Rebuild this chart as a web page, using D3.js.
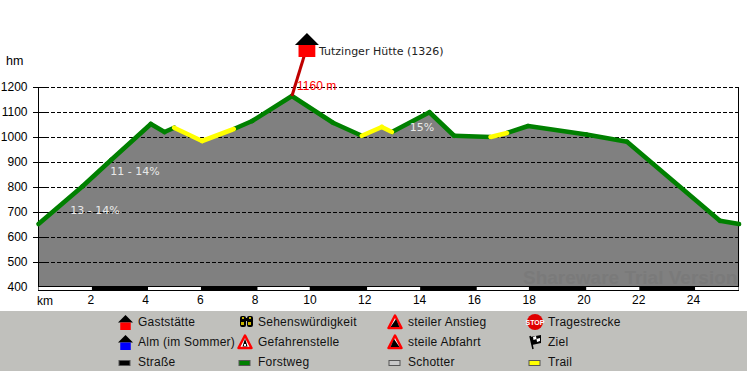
<!DOCTYPE html>
<html>
<head>
<meta charset="utf-8">
<style>
  html, body { margin: 0; padding: 0; background: #fff; overflow: hidden; }
  text { font-family: "Liberation Sans", Arial, sans-serif; }
</style>
<script src="https://cdn.jsdelivr.net/npm/d3@7"></script>
</head>
<body>
<div id="chart"></div>
<script>
// Profile: km along the route, height in metres
const profileKm = [0, 1.6, 2.65, 4.1, 4.6, 4.95, 5.97, 7.13, 7.8, 9.25, 10.75, 11.8, 12.53, 12.9, 14.27, 15.17, 16.5, 17.1, 17.87, 20, 21.48, 24.87, 25.57];
const profileElev = [650, 800, 906, 1050, 1018, 1035, 982, 1030, 1062, 1162, 1055, 1003, 1038, 1018, 1097, 1003, 998, 1014, 1042, 1008, 979, 663, 650];
// surface of each stretch between two profile points
const surfaces = ['F', 'F', 'F', 'F', 'F', 'T', 'T', 'F', 'F', 'F', 'F', 'T', 'T', 'F', 'F', 'F', 'T', 'F', 'F', 'F', 'F', 'F'];

const elevTicks = [400, 500, 600, 700, 800, 900, 1000, 1100, 1200];
const kmTicks = [2, 4, 6, 8, 10, 12, 14, 16, 18, 20, 22, 24];
const scaleBreaks = [0, 1.95, 4, 5.93, 8, 9.9, 12, 13.93, 16, 17.9, 20, 21.93, 23.97, 25.55];

const slopeLabels = ['13 - 14%', '11 - 14%', '15%'];
const slopeKm = [1.16, 2.62, 13.55];
const slopeElev = [690, 845, 1021];

const hutName = 'Tutzinger Hütte (1326)';
const hutElev = 1326;
const peakKm = 9.25;
const peakElev = 1162;
const peakLabel = '1160 m';

const legendRows = [
    ['Gaststätte', 'Sehenswürdigkeit', 'steiler Anstieg', 'Tragestrecke'],
    ['Alm (im Sommer)', 'Gefahrenstelle', 'steile Abfahrt', 'Ziel'],
    ['Straße', 'Forstweg', 'Schotter', 'Trail']
];

const width = 747;
const height = 371;

const svg = d3.select('#chart').append('svg')
    .attr('width', width)
    .attr('height', height)
    .style('display', 'block');

const x = d3.scaleLinear().domain([0, 25.55]).range([38.5, 738.5]);
const y = d3.scaleLinear().domain([400, 1200]).range([286.5, 86.5]);

// Grey area under the profile
const area = d3.area()
    .x((d, i) => x(profileKm[i]))
    .y0(y(400))
    .y1(d => y(d));
svg.append('path')
    .datum(profileElev)
    .attr('d', area)
    .style('fill', '#808080');

// Faint watermark inside the area
svg.append('text')
    .attr('x', 523).attr('y', 284)
    .style('font-size', '19px').style('font-weight', 'bold')
    .style('fill', '#7a7a7a')
    .text('Shareware Trial Version');

// Y axis with dashed grid lines
const yAxis = svg.append('g')
    .attr('transform', 'translate(38.5,0)')
    .call(d3.axisLeft(y).tickValues(elevTicks).tickSize(-700).tickPadding(-6).tickFormat(d3.format('d')));
yAxis.select('.domain').remove();
yAxis.selectAll('line')
    .attr('x1', 6)
    .style('stroke', '#000')
    .style('stroke-dasharray', '4,2')
    .style('shape-rendering', 'crispEdges');
yAxis.selectAll('line').filter(d => d === 400).remove();
// solid stub where each grid line crosses the axis
yAxis.selectAll('.tick').filter(d => d !== 400).append('line')
    .attr('x1', -5.5).attr('x2', 6)
    .style('stroke', '#000')
    .style('shape-rendering', 'crispEdges');
yAxis.selectAll('text')
    .attr('x', -11)
    .style('font-size', '12px')
    .style('font-family', '"Liberation Sans", Arial, sans-serif')
    .style('fill', '#000');

svg.append('text').attr('x', 6).attr('y', 65).style('font-size', '12.5px').text('hm');

// Frame lines left and right
svg.selectAll('line.frame')
    .data([38.5, 738.5])
    .enter().append('line')
    .attr('class', 'frame')
    .attr('x1', d => d).attr('x2', d => d)
    .attr('y1', y(1200)).attr('y2', 291)
    .style('stroke', '#000')
    .style('shape-rendering', 'crispEdges');

// Black and white km strip
svg.selectAll('rect.strip')
    .data(d3.pairs(scaleBreaks))
    .enter().append('rect')
    .attr('class', 'strip')
    .attr('x', d => x(d[0]))
    .attr('y', 287)
    .attr('width', d => x(d[1]) - x(d[0]))
    .attr('height', 3)
    .style('fill', (d, i) => i % 2 ? '#000' : '#fff');
svg.append('line')
    .attr('x1', 38).attr('x2', 739).attr('y1', 286.5).attr('y2', 286.5)
    .style('stroke', '#000');
svg.append('line')
    .attr('x1', 38).attr('x2', 739).attr('y1', 290.5).attr('y2', 290.5)
    .style('stroke', '#000');

// X axis labels
const xAxis = svg.append('g')
    .attr('transform', 'translate(-3,291)')
    .call(d3.axisBottom(x).tickValues(kmTicks).tickSize(0).tickPadding(4).tickFormat(d3.format('d')));
xAxis.select('.domain').remove();
xAxis.selectAll('text')
    .style('font-size', '12px')
    .style('font-family', '"Liberation Sans", Arial, sans-serif')
    .style('fill', '#000');
svg.append('text').attr('x', 37).attr('y', 305).style('font-size', '12px').text('km');

// Profile line, one piece per stretch so that the surface colours show
const line = d3.line().x(d => x(d[0])).y(d => y(d[1]));
const stretches = d3.pairs(d3.zip(profileKm, profileElev));
const drawOrder = d3.range(stretches.length).sort((a, b) => d3.ascending(surfaces[a], surfaces[b]));
svg.selectAll('path.stretch')
    .data(drawOrder)
    .enter().append('path')
    .attr('class', 'stretch')
    .attr('d', i => line(stretches[i]))
    .style('fill', 'none')
    .style('stroke', i => surfaces[i] === 'T' ? '#ffff00' : '#008000')
    .style('stroke-width', 4.6)
    .style('stroke-linecap', 'round');

// Slope labels
svg.selectAll('text.slope')
    .data(slopeLabels)
    .enter().append('text')
    .attr('class', 'slope')
    .attr('x', (d, i) => x(slopeKm[i]))
    .attr('y', (d, i) => y(slopeElev[i]))
    .style('font-family', '"DejaVu Sans", sans-serif')
    .style('font-size', '11px')
    .style('fill', '#e8e8e8')
    .text(d => d);

// Hut marker on its pole
const hutX = x(peakKm) + 15;
const hutY = y(hutElev) - 8;
svg.append('line')
    .attr('x1', x(peakKm)).attr('y1', y(peakElev))
    .attr('x2', hutX).attr('y2', hutY)
    .style('stroke', '#bf0000')
    .style('stroke-width', 3);

function house(g, cx, top, w, fill) {
    g.append('path')
        .attr('d', `M${cx},${top}L${cx + w / 2},${top + w / 2}H${cx - w / 2}Z`)
        .style('fill', '#000');
    g.append('rect')
        .attr('x', cx - w * 0.35).attr('y', top + w / 2)
        .attr('width', w * 0.7).attr('height', w / 2)
        .style('fill', fill);
}
house(svg.append('g'), hutX, 33, 24, '#ff0000');

svg.append('text')
    .attr('x', 319).attr('y', 55)
    .style('font-family', '"DejaVu Sans", sans-serif')
    .style('font-size', '11px')
    .style('fill', '#222')
    .text(hutName);

svg.append('text')
    .attr('x', 297).attr('y', y(1200) + 3.5)
    .style('font-size', '12px')
    .style('fill', '#ff0000')
    .text(peakLabel);

// Legend
svg.append('rect')
    .attr('x', 0).attr('y', 311)
    .attr('width', width).attr('height', 60)
    .style('fill', '#c0c0bc');

const legendX = [138, 258, 408, 548];
const legendY = [326, 346, 366];
legendRows.forEach((row, r) => {
    row.forEach((label, c) => {
        svg.append('text')
            .attr('x', legendX[c]).attr('y', legendY[r])
            .style('font-size', '12px')
            .style('letter-spacing', '0.25px')
            .style('fill', '#111')
            .text(label);
    });
});

// Legend icons
house(svg.append('g'), 125.5, 315, 15, '#ff0000');
house(svg.append('g'), 125.5, 335, 15, '#0000ff');

function swatch(cx, cy, fill) {
    svg.append('rect')
        .attr('x', cx - 5.5).attr('y', cy - 2.5)
        .attr('width', 11).attr('height', 5)
        .style('fill', fill)
        .style('stroke', '#555');
}
swatch(124.5, 363, '#000');
swatch(244.5, 363, '#008000');
swatch(394.5, 363, '#c8c8c8');
swatch(534.5, 363, '#ffff00');

function warning(cx, top, inner) {
    const g = svg.append('g');
    g.append('path')
        .attr('d', `M${cx},${top + 1.5}L${cx + 6.5},${top + 14}H${cx - 6.5}Z`)
        .style('fill', '#fff')
        .style('stroke', '#ff0000')
        .style('stroke-width', 2.5)
        .style('stroke-linejoin', 'round');
    inner(g);
}
warning(245, 334, g => {
    g.append('path').attr('d', 'M245,338.5L247.5,346.5H242.5Z').style('fill', '#000');
    g.append('rect').attr('x', 244).attr('y', 344).attr('width', 2).attr('height', 2).style('fill', '#fff');
});
warning(395, 314, g => {
    g.append('path').attr('d', 'M390.5,327L396,319L399.5,327Z').style('fill', '#000');
});
warning(395, 334, g => {
    g.append('path').attr('d', 'M390.5,347L394,339L399.5,347Z').style('fill', '#000');
});

// Binoculars
const bino = svg.append('g');
[240, 247].forEach(bx => {
    bino.append('rect').attr('x', bx).attr('y', 316).attr('width', 6).attr('height', 11).attr('rx', 2).style('fill', '#000');
    bino.append('rect').attr('x', bx + 1).attr('y', 322).attr('width', 3).attr('height', 3).style('fill', '#c8b400');
    bino.append('rect').attr('x', bx + 2).attr('y', 317).attr('width', 2).attr('height', 2).style('fill', '#c8b400');
});
bino.append('rect').attr('x', 245).attr('y', 318).attr('width', 3).attr('height', 3).style('fill', '#000');

// Stop sign
svg.append('circle').attr('cx', 535).attr('cy', 322).attr('r', 8).style('fill', '#e00000');
svg.append('text')
    .attr('x', 535).attr('y', 324.5)
    .attr('text-anchor', 'middle')
    .style('font-size', '7px').style('font-weight', 'bold').style('fill', '#fff')
    .text('STOP');

// Finish flag
svg.append('line').attr('x1', 530).attr('y1', 336).attr('x2', 533).attr('y2', 349).style('stroke', '#000').style('stroke-width', 1.5);
svg.append('path').attr('d', 'M530,337L541,335L541,343L532,345Z').style('fill', '#000');
svg.append('path').attr('d', 'M533,337L536,336L536.5,339L533.5,340ZM536.5,339L540,338L540,341L537,342Z').style('fill', '#fff');
</script>
</body>
</html>
